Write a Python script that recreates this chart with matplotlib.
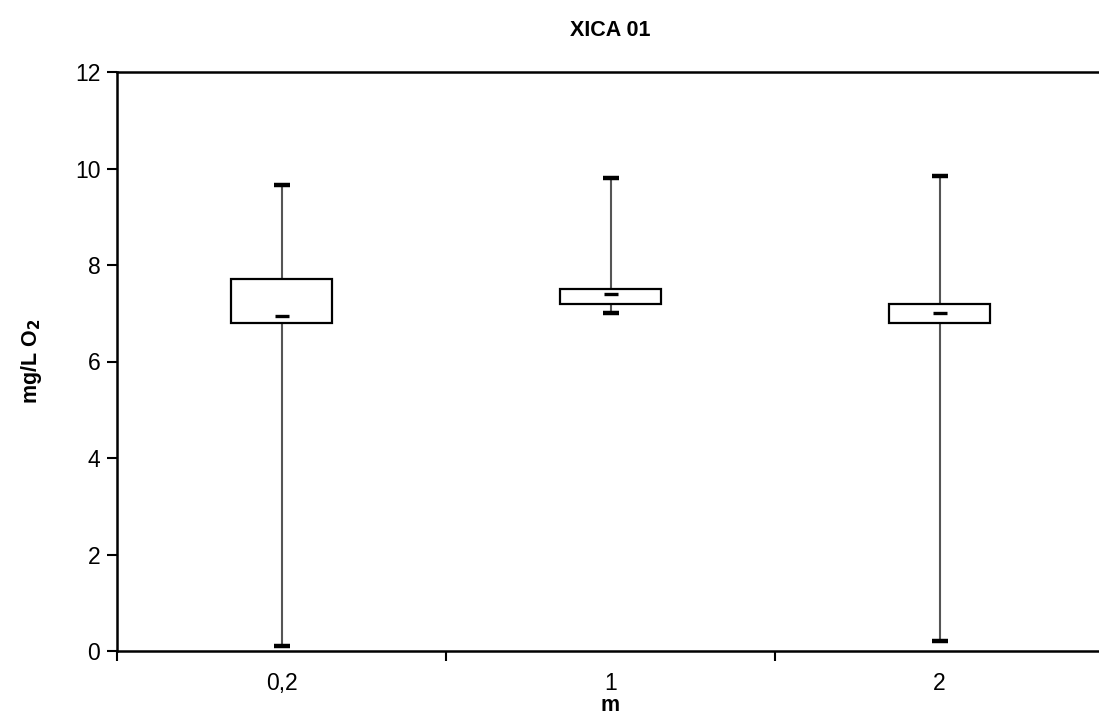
import matplotlib.pyplot as plt
import numpy as np

plt.rcParams['font.family'] = ['Liberation Sans', 'DejaVu Sans']

# box statistics
labels = ['0,2', '1', '2']
q_min = [0.1, 7.0, 0.2]
q1 = [6.8, 7.2, 6.8]
med = [6.94, 7.4, 7.0]
q3 = [7.7, 7.5, 7.2]
q_max = [9.66, 9.8, 9.84]

x = np.arange(len(labels))

fig = plt.figure(figsize=(10.99, 7.18), dpi=100)
ax = fig.add_axes([117 / 1099, 1 - 651 / 718, 987 / 1099, (651 - 72) / 718])

# whiskers
ax.vlines(x, q_min, q_max, color='#555555', lw=1.5, zorder=1)
# boxes
ax.bar(x, np.array(q3) - np.array(q1), bottom=q1, width=0.31,
       color='white', edgecolor='black', lw=1.6, zorder=2)
# caps and median marks
ax.plot(x, q_max, ls='none', marker='_', ms=12, mew=3.2, color='black', zorder=3)
ax.plot(x, q_min, ls='none', marker='_', ms=12, mew=3.2, color='black', zorder=3)
ax.plot(x, med, ls='none', marker='_', ms=10, mew=2.4, color='black', zorder=3)

ax.set_xlim(-0.5, 2.5)
ax.set_ylim(0, 12)
ax.set_yticks(np.arange(0, 13, 2))
ax.set_xticks([-0.5, 0.5, 1.5])
ax.set_xticklabels([])
ax.set_xticks(x, minor=True)
ax.set_xticklabels(labels, minor=True)
ax.tick_params(axis='both', which='major', length=7, width=1.5, labelsize=16.5)
ax.tick_params(axis='y', pad=5)
ax.tick_params(axis='x', which='minor', length=0, pad=15, labelsize=16.5)

for s in ['left', 'bottom', 'top']:
    ax.spines[s].set_linewidth(1.8)
ax.spines['right'].set_visible(False)

ax.set_title('XICA 01', fontsize=15.5, fontweight='bold', pad=26)
ax.set_xlabel('m', fontsize=15.5, fontweight='bold', labelpad=0)
ax.set_ylabel('mg/L O$_\\mathbf{2}$', fontsize=15.5, fontweight='bold', labelpad=22)

fig.savefig('out.png', dpi=100)
